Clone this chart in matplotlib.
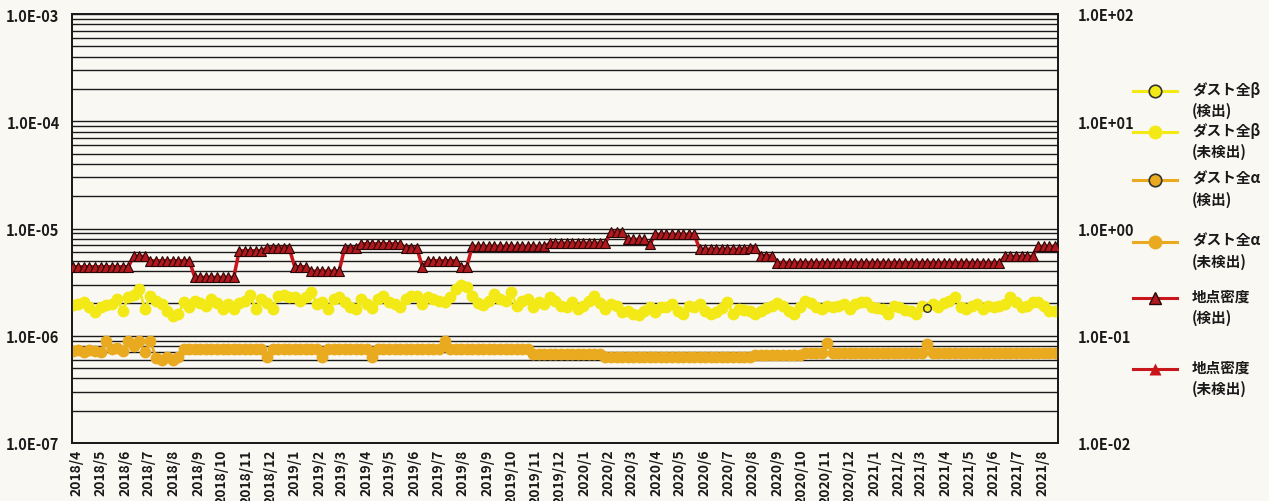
import numpy as np
import pandas as pd
import matplotlib
matplotlib.use('Agg')
import matplotlib.pyplot as plt
import matplotlib.dates as mdates
from matplotlib.ticker import LogLocator, FuncFormatter, NullFormatter
from matplotlib.lines import Line2D

plt.rcParams['font.family'] = ['Noto Sans CJK JP', 'DejaVu Sans']
plt.rcParams['font.weight'] = 'bold'

# weekly sampling dates
dates = pd.date_range('2018-03-27', periods=178, freq='7D')

# 地点密度 (right axis)
dose = [
    0.44, 0.44, 0.44, 0.44, 0.44, 0.44, 0.44, 0.44, 0.44, 0.44,
    0.44, 0.55, 0.55, 0.55, 0.50, 0.50, 0.50, 0.50, 0.50, 0.50,
    0.50, 0.50, 0.35, 0.35, 0.35, 0.35, 0.35, 0.35, 0.35, 0.35,
    0.62, 0.62, 0.62, 0.62, 0.62, 0.66, 0.66, 0.66, 0.66, 0.66,
    0.44, 0.44, 0.44, 0.40, 0.40, 0.40, 0.40, 0.40, 0.40, 0.66,
    0.66, 0.66, 0.72, 0.72, 0.72, 0.72, 0.72, 0.72, 0.72, 0.72,
    0.66, 0.66, 0.66, 0.44, 0.50, 0.50, 0.50, 0.50, 0.50, 0.50,
    0.44, 0.44, 0.68, 0.68, 0.68, 0.68, 0.68, 0.68, 0.68, 0.68,
    0.68, 0.68, 0.68, 0.68, 0.68, 0.68, 0.73, 0.73, 0.73, 0.73,
    0.73, 0.73, 0.73, 0.73, 0.73, 0.73, 0.73, 0.93, 0.93, 0.93,
    0.79, 0.79, 0.79, 0.79, 0.71, 0.88, 0.88, 0.88, 0.88, 0.88,
    0.88, 0.88, 0.88, 0.64, 0.64, 0.64, 0.64, 0.64, 0.64, 0.64,
    0.64, 0.64, 0.66, 0.66, 0.56, 0.56, 0.56, 0.48, 0.48, 0.48,
    0.48, 0.48, 0.48, 0.48, 0.48, 0.48, 0.48, 0.48, 0.48, 0.48,
    0.48, 0.48, 0.48, 0.48, 0.48, 0.48, 0.48, 0.48, 0.48, 0.48,
    0.48, 0.48, 0.48, 0.48, 0.48, 0.48, 0.48, 0.48, 0.48, 0.48,
    0.48, 0.48, 0.48, 0.48, 0.48, 0.48, 0.48, 0.48, 0.55, 0.55,
    0.55, 0.55, 0.55, 0.55, 0.68, 0.68, 0.68, 0.68,
]

# ダスト全β 未検出 (x1e-6, left axis)
beta_nd = [
    1.92, 1.97, 2.05, 1.85, 1.65, 1.85, 1.95, 1.97, 2.20, 1.70,
    2.30, 2.40, 2.70, 1.77, 2.35, 2.10, 1.97, 1.70, 1.52, 1.59,
    2.05, 1.85, 2.10, 2.00, 1.90, 2.20, 2.00, 1.77, 1.97, 1.77,
    2.00, 2.10, 2.40, 1.77, 2.20, 2.00, 1.77, 2.35, 2.40, 2.30,
    2.30, 2.10, 2.30, 2.55, 1.97, 2.05, 1.77, 2.20, 2.30, 2.05,
    1.85, 1.77, 2.20, 1.97, 1.80, 2.20, 2.35, 2.05, 1.97, 1.85,
    2.20, 2.35, 2.35, 1.97, 2.30, 2.20, 2.10, 2.05, 2.30, 2.70,
    2.95, 2.85, 2.35, 2.00, 1.95, 2.10, 2.45, 2.20, 2.10, 2.55,
    1.90, 2.10, 2.20, 1.85, 2.05, 1.97, 2.30, 2.10, 1.90, 1.85,
    2.05, 1.77, 1.90, 2.10, 2.35, 2.00, 1.77, 1.97, 1.90, 1.65,
    1.70, 1.60, 1.55, 1.70, 1.85, 1.65, 1.85, 1.85, 1.97, 1.70,
    1.60, 1.90, 1.85, 1.97, 1.70, 1.59, 1.65, 1.80, 2.05, 1.59,
    1.77, 1.75, 1.70, 1.59, 1.70, 1.80, 1.90, 2.00, 1.90, 1.70,
    1.59, 1.85, 2.10, 2.00, 1.85, 1.77, 1.90, 1.85, 1.90, 1.97,
    1.77, 1.97, 2.05, 2.05, 1.85, 1.80, 1.77, 1.59, 1.90, 1.85,
    1.75, 1.70, 1.59, 1.90, np.nan, 1.97, 1.85, 2.00, 2.10, 2.30,
    1.85, 1.77, 1.90, 1.97, 1.77, 1.90, 1.85, 1.90, 1.97, 2.30,
    2.05, 1.85, 1.90, 2.05, 2.05, 1.90, 1.70, 1.70,
]

# ダスト全β 検出 (x1e-6)
beta_det_dates = ['2021-03-09']
beta_det = [1.80]

# ダスト全α 未検出 (x1e-7, left axis)
alpha_nd = [
    7.2, 7.3, 7.1, 7.3, 7.2, 7.0, 8.9, 7.6, 7.7, 7.2,
    8.9, 8.1, 8.9, 7.0, 8.9, 6.2, 6.0, 6.3, 6.0, 6.3,
    7.5, 7.6, 7.6, 7.6, 7.6, 7.6, 7.6, 7.6, 7.6, 7.6,
    7.6, 7.6, 7.6, 7.6, 7.6, 6.3, 7.6, 7.6, 7.6, 7.6,
    7.6, 7.6, 7.6, 7.6, 7.6, 6.4, 7.6, 7.6, 7.6, 7.6,
    7.6, 7.6, 7.6, 7.6, 6.3, 7.6, 7.6, 7.6, 7.6, 7.6,
    7.6, 7.6, 7.6, 7.6, 7.6, 7.6, 7.6, 9.0, 7.6, 7.6,
    7.6, 7.6, 7.6, 7.6, 7.6, 7.6, 7.6, 7.6, 7.6, 7.6,
    7.6, 7.6, 7.6, 6.7, 6.7, 6.7, 6.7, 6.7, 6.7, 6.7,
    6.7, 6.7, 6.7, 6.7, 6.7, 6.7, 6.4, 6.4, 6.4, 6.4,
    6.4, 6.4, 6.4, 6.4, 6.4, 6.4, 6.4, 6.4, 6.4, 6.4,
    6.4, 6.4, 6.4, 6.4, 6.4, 6.4, 6.4, 6.4, 6.4, 6.4,
    6.4, 6.4, 6.4, 6.6, 6.6, 6.6, 6.6, 6.6, 6.6, 6.6,
    6.6, 6.6, 6.9, 6.9, 6.9, 6.9, 8.5, 6.9, 6.9, 6.9,
    6.9, 6.9, 6.9, 6.9, 6.9, 6.9, 6.9, 6.9, 6.9, 6.9,
    6.9, 6.9, 6.9, 6.9, 8.4, 6.9, 6.9, 6.9, 6.9, 6.9,
    6.9, 6.9, 6.9, 6.9, 6.9, 6.9, 6.9, 6.9, 6.9, 6.9,
    6.9, 6.9, 6.9, 6.9, 6.9, 6.9, 6.9, 6.9,
]

legend_labels = ['ダスト全β\n(検出)', 'ダスト全β\n(未検出)', 'ダスト全α\n(検出)',
                 'ダスト全α\n(未検出)', '地点密度\n(検出)', '地点密度\n(未検出)']

bg = '#f9f8f3'
yellow = '#f2e916'
orange = '#e9aa20'
red = '#c8161b'
tri_fill = '#b01a1e'

fig = plt.figure(figsize=(12.69, 5.02), dpi=100, facecolor=bg)
ax = fig.add_axes([72 / 1269, 1 - 444 / 502, 986 / 1269, 429 / 502])
ax.set_facecolor(bg)

ax.set_yscale('log')
ax.set_ylim(1e-7, 1e-3)
ax.yaxis.set_major_locator(LogLocator(base=10, numticks=10))
ax.yaxis.set_minor_locator(LogLocator(base=10, subs=np.arange(2, 10), numticks=10))
ax.yaxis.set_minor_formatter(NullFormatter())
ax.yaxis.set_major_formatter(FuncFormatter(lambda v, p: f"{v:.1E}"))
ax.grid(which='both', axis='y', color='#1a1a1a', lw=1.0)
ax.set_axisbelow(True)
ax.tick_params(axis='y', which='both', length=0, pad=9, labelsize=10.5, labelcolor='#1a1a1a')

ax.plot(dates, np.array(alpha_nd) * 1e-7, color=orange, lw=2, marker='o', ms=8.5,
        mec='none', zorder=3)
ax.plot(dates, np.array(beta_nd) * 1e-6, color=yellow, lw=2, marker='o', ms=8.5,
        mec='none', zorder=3)
ax.plot(pd.to_datetime(beta_det_dates), np.array(beta_det) * 1e-6, 'o', mfc=yellow,
        mec='#333333', mew=1.0, ms=5.5, zorder=4)

ax.xaxis.set_major_locator(mdates.MonthLocator())
ax.xaxis.set_major_formatter(FuncFormatter(
    lambda v, p: f"{mdates.num2date(v).year}/{mdates.num2date(v).month}"))
ax.tick_params(axis='x', length=0, pad=4, labelsize=10, labelrotation=90,
               labelcolor='#1a1a1a')
ax.set_xlim(pd.Timestamp('2018-03-26'), pd.Timestamp('2021-08-21'))

ax2 = ax.twinx()
ax2.set_yscale('log')
ax2.set_ylim(1e-2, 1e2)
ax2.yaxis.set_major_locator(LogLocator(base=10, numticks=10))
ax2.yaxis.set_minor_locator(LogLocator(base=10, subs=np.arange(2, 10), numticks=10))
ax2.yaxis.set_minor_formatter(NullFormatter())
ax2.yaxis.set_major_formatter(FuncFormatter(lambda v, p: f"{v:.1E}"))
ax2.tick_params(axis='y', which='both', length=0, pad=14, labelsize=10.5,
                labelcolor='#1a1a1a')
ax2.plot(dates, dose, color=red, lw=2.5, marker='^', ms=7.5, mfc=tri_fill,
         mec='#2a0606', mew=0.8, zorder=3)

for a in (ax, ax2):
    for s in a.spines.values():
        s.set_color('#1a1a1a')
        s.set_linewidth(1.3)

# legend drawn at the right, one entry per row
leg_y = [92, 133, 181, 243, 299, 370]
leg_style = [
    dict(color=yellow, marker='o', mfc=yellow, mec='#333333', mew=1.2, ms=9),
    dict(color=yellow, marker='o', mfc=yellow, mec='none', ms=10),
    dict(color=orange, marker='o', mfc=orange, mec='#333333', mew=1.2, ms=9),
    dict(color=orange, marker='o', mfc=orange, mec='none', ms=10),
    dict(color=red, marker='^', mfc=tri_fill, mec='#2a0606', mew=1.0, ms=9),
    dict(color=red, marker='^', mfc=red, mec='none', ms=9),
]
for y, st, lab in zip(leg_y, leg_style, legend_labels):
    yf = 1 - y / 502
    fig.add_artist(Line2D([1133 / 1269, 1177 / 1269], [yf, yf], lw=2.2,
                          color=st['color'], transform=fig.transFigure))
    fig.add_artist(Line2D([1155 / 1269], [yf], lw=0, transform=fig.transFigure,
                          **{k: v for k, v in st.items() if k != 'color'}))
    fig.text(1192 / 1269, 1 - (y - 10) / 502, lab, fontsize=10.5, va='top',
             ha='left', color='#1a1a1a', linespacing=1.35)

fig.savefig('out.png', dpi=100, facecolor=bg)
